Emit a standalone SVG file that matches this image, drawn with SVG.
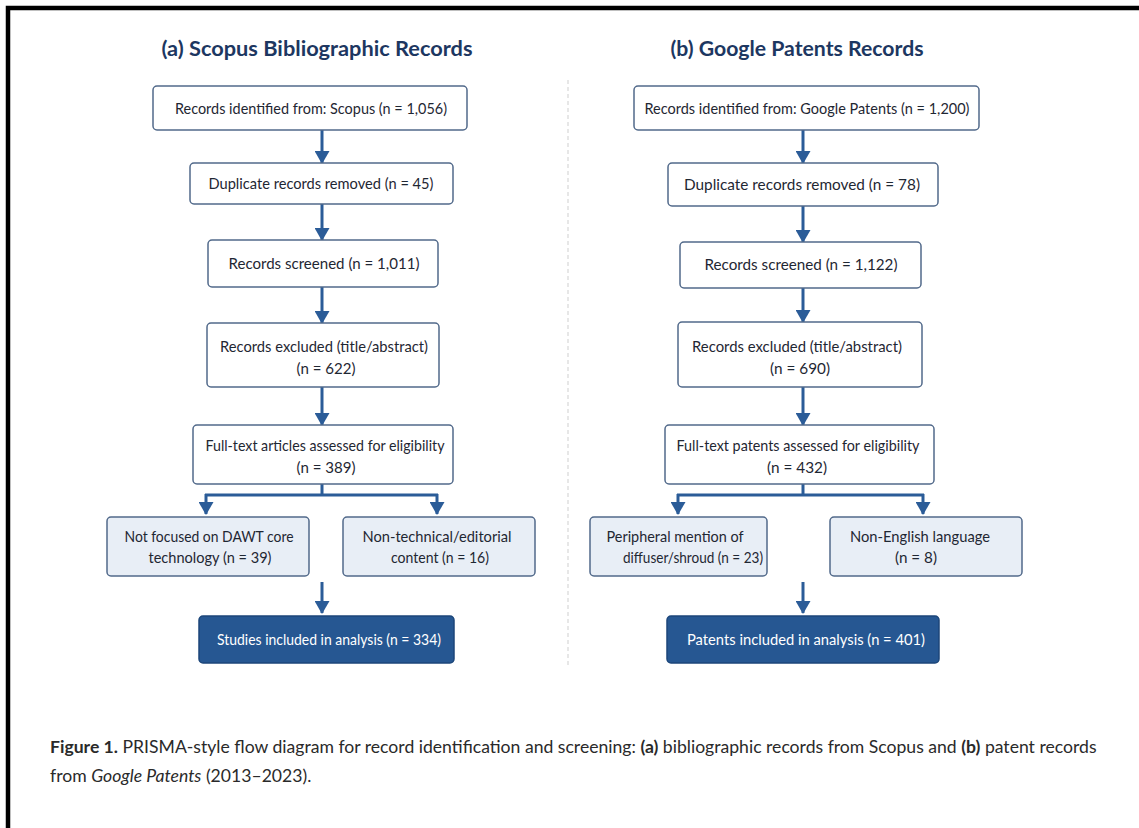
<svg xmlns="http://www.w3.org/2000/svg" width="1139" height="828" viewBox="0 0 1139 828">
<defs>
<marker id="ah" markerUnits="userSpaceOnUse" markerWidth="13" markerHeight="15" refX="12" refY="7.5" orient="auto" viewBox="0 0 13 15">
<path d="M0,0 L13,7.5 L0,15 Z" fill="#2b5c98"/>
</marker>
<style>
.t{font-family:Lato,"Open Sans","Liberation Sans",sans-serif;font-size:16px;fill:#1f2733;text-anchor:middle}
.w{fill:#ffffff}
.h{font-family:Lato,"Open Sans","Liberation Sans",sans-serif;font-size:21px;font-weight:bold;fill:#1d3761;text-anchor:middle}
.b{fill:#ffffff;stroke:#51698a;stroke-width:1.5}
.l{fill:#e8eef6;stroke:#51698a;stroke-width:1.5}
.d{fill:#265792;stroke:#1c467a;stroke-width:1.5}
.c{stroke:#2b5c98;stroke-width:3;fill:none}
.a{marker-end:url(#ah)}
.cap{font-family:Lato,"Open Sans","Liberation Sans",sans-serif;font-size:17.6px;fill:#2a2a2a}
</style>
</defs>
<rect x="0" y="0" width="1139" height="828" fill="#ffffff"/>
<path d="M8,828 V8 H1139" fill="none" stroke="#000" stroke-width="4.5"/>
<line x1="568" y1="80" x2="568" y2="666" stroke="#cfcfcf" stroke-width="1" stroke-dasharray="4,3"/>

<text class="h" x="317" y="56" textLength="311" lengthAdjust="spacingAndGlyphs">(a) Scopus Bibliographic Records</text>
<text class="h" x="797" y="56" textLength="253" lengthAdjust="spacingAndGlyphs">(b) Google Patents Records</text>

<g id="connectors">
<line class="c a" x1="322" y1="130" x2="322" y2="163"/>
<line class="c a" x1="322" y1="204" x2="322" y2="240"/>
<line class="c a" x1="322" y1="287" x2="322" y2="323"/>
<line class="c a" x1="322" y1="387" x2="322" y2="425"/>
<line class="c" x1="322" y1="484" x2="322" y2="495"/>
<line class="c" x1="205" y1="495" x2="438" y2="495"/>
<line class="c a" x1="206" y1="494" x2="206" y2="514"/>
<line class="c a" x1="437" y1="494" x2="437" y2="514"/>
<line class="c a" x1="322" y1="582" x2="322" y2="613"/>

<line class="c a" x1="803" y1="130" x2="803" y2="163"/>
<line class="c a" x1="803" y1="206" x2="803" y2="242"/>
<line class="c a" x1="803" y1="288" x2="803" y2="322"/>
<line class="c a" x1="803" y1="387" x2="803" y2="425"/>
<line class="c" x1="803" y1="484" x2="803" y2="495"/>
<line class="c" x1="677" y1="495" x2="924" y2="495"/>
<line class="c a" x1="678" y1="494" x2="678" y2="514"/>
<line class="c a" x1="923" y1="494" x2="923" y2="514"/>
<line class="c a" x1="803" y1="582" x2="803" y2="613"/>
</g>

<g id="a1"><rect class="b" x="153" y="86" width="314" height="44" rx="4"/>
<text class="t" x="311" y="114" textLength="272" lengthAdjust="spacingAndGlyphs">Records identified from: Scopus (n = 1,056)</text></g>
<g id="a2"><rect class="b" x="190" y="163" width="263" height="41" rx="4"/>
<text class="t" x="321" y="189" textLength="225" lengthAdjust="spacingAndGlyphs">Duplicate records removed (n = 45)</text></g>
<g id="a3"><rect class="b" x="208" y="240" width="230" height="47" rx="4"/>
<text class="t" x="324" y="269" textLength="191" lengthAdjust="spacingAndGlyphs">Records screened (n = 1,011)</text></g>
<g id="a4"><rect class="b" x="207" y="323" width="232" height="64" rx="4"/>
<text class="t" x="324" y="352" textLength="208" lengthAdjust="spacingAndGlyphs">Records excluded (title/abstract)</text>
<text class="t" x="326" y="374" textLength="59" lengthAdjust="spacingAndGlyphs">(n = 622)</text></g>
<g id="a5"><rect class="b" x="193" y="425" width="260" height="59" rx="4"/>
<text class="t" x="325" y="451" textLength="239" lengthAdjust="spacingAndGlyphs">Full-text articles assessed for eligibility</text>
<text class="t" x="326" y="473" textLength="59" lengthAdjust="spacingAndGlyphs">(n = 389)</text></g>
<g id="a6"><rect class="l" x="107" y="517" width="202" height="59" rx="4"/>
<text class="t" x="209" y="542" textLength="169" lengthAdjust="spacingAndGlyphs">Not focused on DAWT core</text>
<text class="t" x="210" y="563" textLength="123" lengthAdjust="spacingAndGlyphs">technology (n = 39)</text></g>
<g id="a7"><rect class="l" x="343" y="517" width="192" height="59" rx="4"/>
<text class="t" x="437" y="542" textLength="149" lengthAdjust="spacingAndGlyphs">Non-technical/editorial</text>
<text class="t" x="440" y="563" textLength="98" lengthAdjust="spacingAndGlyphs">content (n = 16)</text></g>
<g id="a8"><rect class="d" x="199" y="616" width="255" height="47" rx="4"/>
<text class="t w" x="329" y="645" textLength="224" lengthAdjust="spacingAndGlyphs">Studies included in analysis (n = 334)</text></g>

<g id="b1"><rect class="b" x="634" y="86" width="345" height="44" rx="4"/>
<text class="t" x="807" y="114" textLength="325" lengthAdjust="spacingAndGlyphs">Records identified from: Google Patents (n = 1,200)</text></g>
<g id="b2"><rect class="b" x="668" y="163" width="270" height="43" rx="4"/>
<text class="t" x="802" y="190" textLength="236" lengthAdjust="spacingAndGlyphs">Duplicate records removed (n = 78)</text></g>
<g id="b3"><rect class="b" x="680" y="242" width="241" height="46" rx="4"/>
<text class="t" x="801" y="270" textLength="193" lengthAdjust="spacingAndGlyphs">Records screened (n = 1,122)</text></g>
<g id="b4"><rect class="b" x="678" y="322" width="244" height="65" rx="4"/>
<text class="t" x="797" y="352" textLength="210" lengthAdjust="spacingAndGlyphs">Records excluded (title/abstract)</text>
<text class="t" x="800" y="374" textLength="60" lengthAdjust="spacingAndGlyphs">(n = 690)</text></g>
<g id="b5"><rect class="b" x="665" y="425" width="269" height="59" rx="4"/>
<text class="t" x="798" y="451" textLength="243" lengthAdjust="spacingAndGlyphs">Full-text patents assessed for eligibility</text>
<text class="t" x="797" y="473" textLength="60" lengthAdjust="spacingAndGlyphs">(n = 432)</text></g>
<g id="b6"><rect class="l" x="590" y="517" width="177" height="59" rx="4"/>
<text class="t" x="675" y="542" textLength="137" lengthAdjust="spacingAndGlyphs">Peripheral mention of</text>
<text class="t" x="693" y="563" textLength="140" lengthAdjust="spacingAndGlyphs">diffuser/shroud (n = 23)</text></g>
<g id="b7"><rect class="l" x="830" y="517" width="192" height="59" rx="4"/>
<text class="t" x="920" y="542" textLength="140" lengthAdjust="spacingAndGlyphs">Non-English language</text>
<text class="t" x="916" y="563" textLength="42" lengthAdjust="spacingAndGlyphs">(n = 8)</text></g>
<g id="b8"><rect class="d" x="667" y="616" width="272" height="47" rx="4"/>
<text class="t w" x="806" y="645" textLength="238" lengthAdjust="spacingAndGlyphs">Patents included in analysis (n = 401)</text></g>

<text class="cap" x="50" y="753"><tspan font-weight="bold">Figure 1.</tspan> PRISMA-style flow diagram for record identification and screening: <tspan font-weight="bold">(a)</tspan> bibliographic records from Scopus and <tspan font-weight="bold">(b)</tspan> patent records</text>
<text class="cap" x="50" y="782">from <tspan font-style="italic">Google Patents</tspan> (2013–2023).</text>
</svg>
